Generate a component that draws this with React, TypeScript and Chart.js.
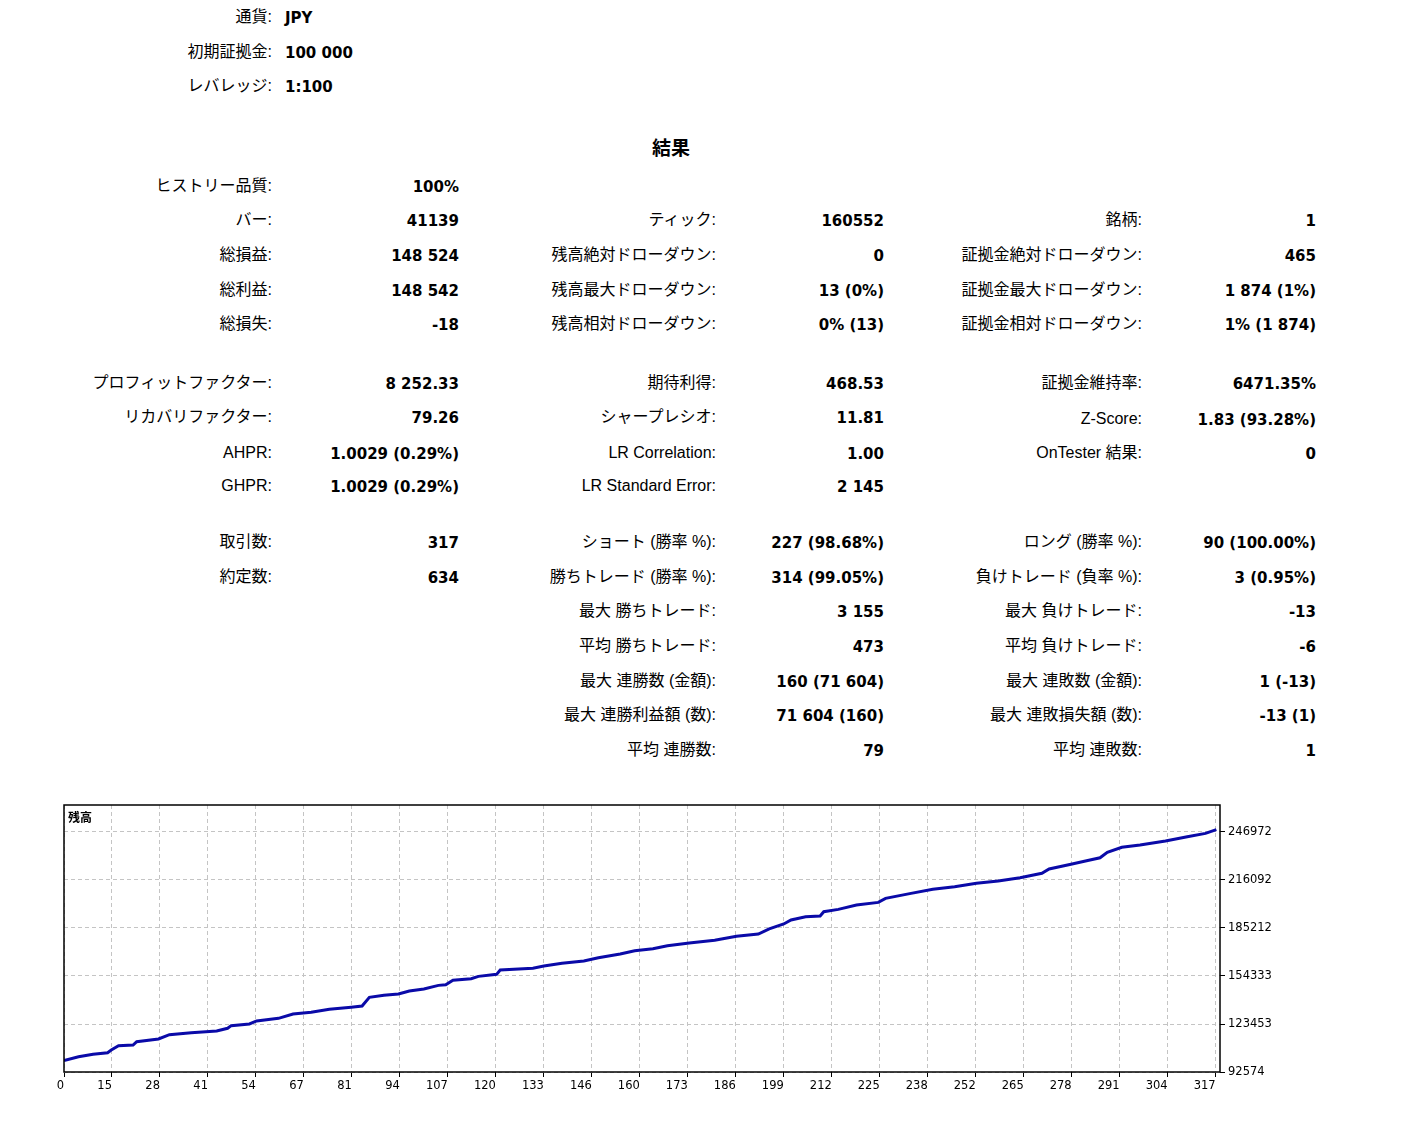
import React, { useEffect, useRef } from "react";
import { Chart, registerables } from "chart.js";

Chart.register(...registerables);

// ---- chart data (balance curve) ----
const tradeIdx = [0, 4, 8, 12, 13, 15, 19, 20, 26, 29, 35, 42, 45, 46, 51, 53, 59, 63, 68, 73, 79, 82, 84, 88, 92, 95, 99, 103, 105, 107, 112, 114, 119, 120, 129, 132, 137, 143, 147, 153, 157, 162, 166, 172, 179, 185, 191, 194, 198, 200, 204, 208, 209, 213, 218, 224, 226, 233, 239, 245, 251, 257, 263, 269, 271, 277, 281, 285, 287, 291, 296, 303, 309, 314, 317];
const balance = [100000, 102400, 104000, 105000, 106700, 109500, 109900, 112100, 113800, 116600, 117900, 118900, 120700, 122400, 123500, 125400, 127100, 129900, 131000, 132900, 134200, 135000, 140600, 141900, 142800, 144700, 146000, 148300, 148700, 151600, 152600, 154100, 155400, 158200, 159300, 160800, 162500, 164000, 166100, 168500, 170600, 171900, 173800, 175600, 177300, 179900, 181300, 184600, 187800, 190400, 192500, 192900, 195700, 197200, 200000, 201700, 204300, 207500, 210100, 211800, 214000, 215400, 217600, 220400, 223200, 226200, 228300, 230400, 233900, 237100, 238600, 241200, 243900, 246100, 248524];
const xTickLabels = ["0", "15", "28", "41", "54", "67", "81", "94", "107", "120", "133", "146", "160", "173", "186", "199", "212", "225", "238", "252", "265", "278", "291", "304", "317"];
const yTickValues = [92574, 123453, 154333, 185212, 216092, 246972];
const yMin = 92574;
const yMax = 264340;
const xMax = 318;
const xStep = 13.2;
const chartTitle = "残高";

// ---- report text ----
const headerRows = [
  ["通貨:", "JPY"],
  ["初期証拠金:", "100 000"],
  ["レバレッジ:", "1:100"],
];
const headerY = [17, 52, 86];

const col1 = [
  [186, "ヒストリー品質:", "100%"],
  [220, "バー:", "41139"],
  [255, "総損益:", "148 524"],
  [290, "総利益:", "148 542"],
  [324, "総損失:", "-18"],
  [383, "プロフィットファクター:", "8 252.33"],
  [417, "リカバリファクター:", "79.26"],
  [453, "AHPR:", "1.0029 (0.29%)"],
  [486, "GHPR:", "1.0029 (0.29%)"],
  [542, "取引数:", "317"],
  [577, "約定数:", "634"],
];
const col2 = [
  [220, "ティック:", "160552"],
  [255, "残高絶対ドローダウン:", "0"],
  [290, "残高最大ドローダウン:", "13 (0%)"],
  [324, "残高相対ドローダウン:", "0% (13)"],
  [383, "期待利得:", "468.53"],
  [417, "シャープレシオ:", "11.81"],
  [453, "LR Correlation:", "1.00"],
  [486, "LR Standard Error:", "2 145"],
  [542, "ショート (勝率 %):", "227 (98.68%)"],
  [577, "勝ちトレード (勝率 %):", "314 (99.05%)"],
  [611, "最大 勝ちトレード:", "3 155"],
  [646, "平均 勝ちトレード:", "473"],
  [681, "最大 連勝数 (金額):", "160 (71 604)"],
  [715, "最大 連勝利益額 (数):", "71 604 (160)"],
  [750, "平均 連勝数:", "79"],
];
const col3 = [
  [220, "銘柄:", "1"],
  [255, "証拠金絶対ドローダウン:", "465"],
  [290, "証拠金最大ドローダウン:", "1 874 (1%)"],
  [324, "証拠金相対ドローダウン:", "1% (1 874)"],
  [383, "証拠金維持率:", "6471.35%"],
  [419, "Z-Score:", "1.83 (93.28%)"],
  [453, "OnTester 結果:", "0"],
  [542, "ロング (勝率 %):", "90 (100.00%)"],
  [577, "負けトレード (負率 %):", "3 (0.95%)"],
  [611, "最大 負けトレード:", "-13"],
  [646, "平均 負けトレード:", "-6"],
  [681, "最大 連敗数 (金額):", "1 (-13)"],
  [715, "最大 連敗損失額 (数):", "-13 (1)"],
  [750, "平均 連敗数:", "1"],
];

const PAGE_W = 1404;
const labelFont = '"Liberation Sans", "Noto Sans CJK JP", sans-serif';
const valueFont = '"DejaVu Sans", "Noto Sans CJK JP", sans-serif';

function Text(props: { x: number; y: number; text: string; bold?: boolean; align: "left" | "right" | "center"; size?: number; family?: string }) {
  const { x, y, text, bold, align, size, family } = props;
  const style: any = {
    position: "absolute",
    top: y - 12,
    height: 24,
    lineHeight: "24px",
    whiteSpace: "nowrap",
    color: "#000",
    fontFamily: family || (bold ? valueFont : labelFont),
    fontSize: size || (bold ? 15 : 16),
    fontWeight: bold ? "bold" : "normal",
  };
  if (align === "right") style.right = PAGE_W - x;
  else if (align === "center") {
    style.left = x - 100;
    style.width = 200;
    style.textAlign = "center";
  } else style.left = x;
  return <div style={style}>{text}</div>;
}

const framePlugin = {
  id: "frame",
  afterDraw(chart: any) {
    const { ctx, chartArea: a } = chart;
    ctx.save();
    ctx.strokeStyle = "#000";
    ctx.lineWidth = 1.5;
    ctx.strokeRect(a.left, a.top, a.right - a.left, a.bottom - a.top);
    ctx.restore();
  },
};

function BalanceChart() {
  const ref = useRef<HTMLCanvasElement | null>(null);
  useEffect(() => {
    if (!ref.current) return;
    const tickFont = { family: "DejaVu Sans", size: 11.5 };
    const grid = {
      color: "#c4c4c4",
      lineWidth: 1,
      drawTicks: true,
      tickLength: 5,
      tickColor: "#000",
      tickWidth: 1,
      tickBorderDash: [],
    };
    const chart = new Chart(ref.current, {
      type: "line",
      data: {
        datasets: [
          {
            label: chartTitle,
            data: tradeIdx.map((x, i) => ({ x, y: balance[i] })),
            borderColor: "#0a0aa8",
            borderWidth: 3,
            pointRadius: 0,
            tension: 0,
            fill: false,
          },
        ],
      },
      options: {
        animation: false,
        responsive: true,
        maintainAspectRatio: false,
        layout: { padding: { left: 10, top: 10, right: 64, bottom: 5 } },
        plugins: { legend: { display: false }, tooltip: { enabled: false } },
        scales: {
          x: {
            type: "linear",
            min: 0,
            max: xMax,
            afterBuildTicks: (s: any) => {
              s.ticks = xTickLabels.map((_, i) => ({ value: i * xStep }));
            },
            afterFit: (s: any) => {
              s.height = 28;
            },
            ticks: {
              autoSkip: false,
              maxRotation: 0,
              minRotation: 0,
              align: "end",
              padding: 2,
              color: "#000",
              font: tickFont,
              callback: (_v: any, i: number) => xTickLabels[i],
            },
            grid,
            border: { display: false, dash: [4, 3] },
          },
          y: {
            type: "linear",
            position: "right",
            min: yMin,
            max: yMax,
            afterBuildTicks: (s: any) => {
              s.ticks = yTickValues.map((v) => ({ value: v }));
            },
            afterFit: (s: any) => {
              s.width = 60;
            },
            ticks: {
              autoSkip: false,
              padding: 3,
              color: "#000",
              font: tickFont,
              callback: (_v: any, i: number) => String(yTickValues[i]),
            },
            grid,
            border: { display: false, dash: [4, 3] },
          },
        },
      } as any,
      plugins: [framePlugin],
    });
    return () => chart.destroy();
  }, []);
  return (
    <div style={{ position: "absolute", left: 54, top: 795, width: 1290, height: 310 }}>
      <canvas ref={ref} />
    </div>
  );
}

export default function App() {
  return (
    <div style={{ position: "absolute", left: 0, top: 0, width: PAGE_W, height: 1122, background: "#fff", overflow: "hidden" }}>
      {headerRows.map((r, i) => (
        <React.Fragment key={"h" + i}>
          <Text x={272} y={headerY[i]} text={r[0]} align="right" />
          <Text x={285} y={headerY[i] + 1} text={r[1]} align="left" bold />
        </React.Fragment>
      ))}
      <Text x={671} y={147} text="結果" align="center" bold size={19} family='"Noto Sans CJK JP", sans-serif' />
      {col1.map((r, i) => (
        <React.Fragment key={"a" + i}>
          <Text x={272} y={r[0] as number} text={r[1] as string} align="right" />
          <Text x={459} y={(r[0] as number) + 1} text={r[2] as string} align="right" bold />
        </React.Fragment>
      ))}
      {col2.map((r, i) => (
        <React.Fragment key={"b" + i}>
          <Text x={716} y={r[0] as number} text={r[1] as string} align="right" />
          <Text x={884} y={(r[0] as number) + 1} text={r[2] as string} align="right" bold />
        </React.Fragment>
      ))}
      {col3.map((r, i) => (
        <React.Fragment key={"c" + i}>
          <Text x={1142} y={r[0] as number} text={r[1] as string} align="right" />
          <Text x={1316} y={(r[0] as number) + 1} text={r[2] as string} align="right" bold />
        </React.Fragment>
      ))}
      <BalanceChart />
      <div style={{ position: "absolute", left: 68, top: 809, fontSize: 12, fontWeight: "bold", fontFamily: '"Noto Sans CJK JP", sans-serif', lineHeight: "16px", color: "#000" }}>
        {chartTitle}
      </div>
    </div>
  );
}
